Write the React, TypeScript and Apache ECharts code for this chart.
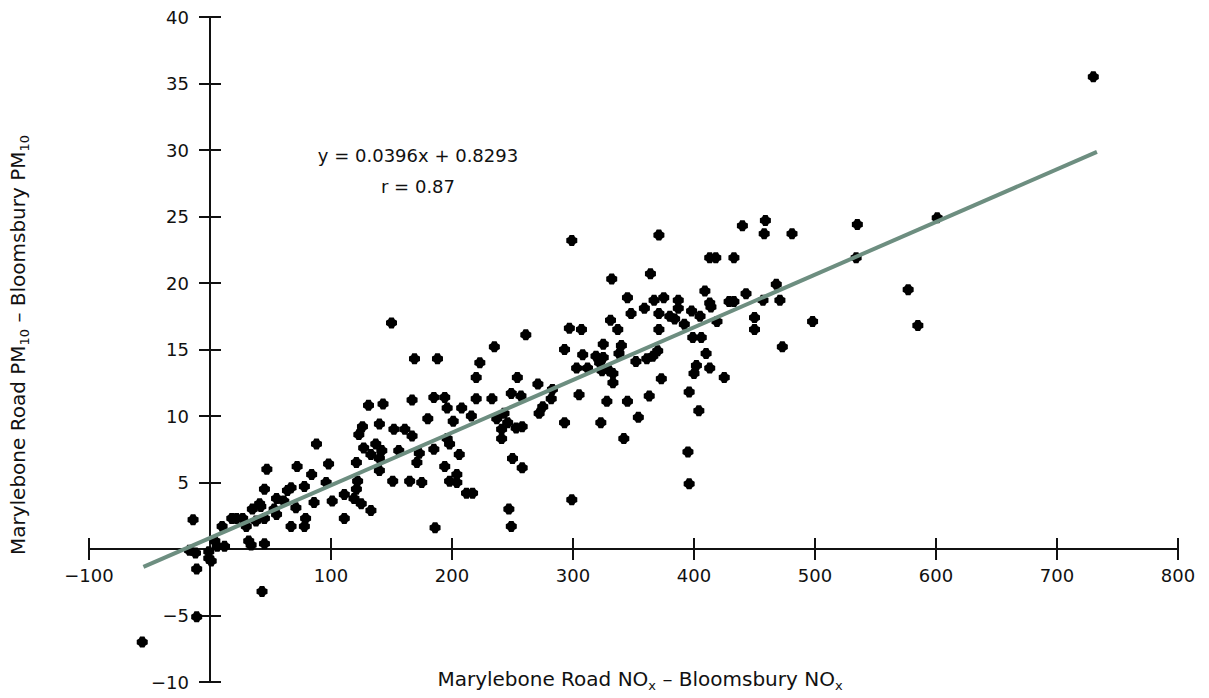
import React, { useEffect, useRef } from "react";
import * as echarts from "echarts";

// Axis ranges and tick spacing
const X_MIN = -100;
const X_MAX = 800;
const X_STEP = 100;
const Y_MIN = -10;
const Y_MAX = 40;
const Y_STEP = 5;

// Least-squares fit reported on the chart
const FIT_SLOPE = 0.0396;
const FIT_INTERCEPT = 0.8293;
const FIT_R = 0.87;
const FIT_X_RANGE = [-55, 733];

// Paired daily differences: [NOx difference, PM10 difference]
const samples: [number, number][] = [
  [-56, -7.0], [-11, -5.1], [-11, -1.5], [-14, 2.2], [-17, -0.1], [-12, -0.3],
  [-1, -0.2], [-1, -0.7], [1, -0.9], [43, -3.2], [4, 0.6], [6, 0.2],
  [12, 0.2], [32, 0.6], [34, 0.3], [45, 0.4], [10, 1.7], [18, 2.3],
  [22, 2.3], [27, 2.3], [30, 1.7], [38, 2.1], [35, 3.0], [41, 3.4],
  [42, 3.2], [45, 2.3], [53, 3.0], [55, 2.6], [45, 4.5], [47, 6.0],
  [55, 3.8], [61, 3.6], [64, 4.4], [67, 4.6], [67, 1.7], [71, 3.1],
  [72, 6.2], [78, 4.7], [79, 2.3], [78, 1.7], [84, 5.6], [86, 3.5],
  [88, 7.9], [96, 5.0], [98, 6.4], [101, 3.6], [111, 4.1], [111, 2.3],
  [119, 3.8], [121, 6.5], [121, 4.5], [122, 5.1], [125, 3.4], [133, 2.9],
  [123, 8.6], [126, 9.2], [127, 7.6], [131, 10.8], [133, 7.1], [137, 7.9],
  [140, 9.4], [140, 6.8], [140, 5.9], [142, 7.4], [143, 10.9], [150, 17.0],
  [151, 5.1], [152, 9.0], [156, 7.4], [161, 9.0], [165, 5.1], [167, 11.2],
  [167, 8.5], [169, 14.3], [171, 6.5], [173, 7.2], [175, 5.0], [180, 9.8],
  [185, 11.4], [185, 7.5], [186, 1.6], [188, 14.3], [194, 11.4], [194, 6.2],
  [196, 10.6], [196, 8.3], [198, 7.9], [198, 5.1], [201, 9.6], [204, 5.6],
  [204, 5.0], [206, 7.1], [208, 10.6], [212, 4.2], [217, 4.2], [216, 10.0],
  [220, 12.9], [220, 11.3], [223, 14.0], [233, 11.3], [235, 15.2], [237, 9.8],
  [241, 8.3], [241, 9.0], [243, 10.2], [246, 9.5], [247, 3.0], [249, 1.7],
  [249, 11.7], [250, 6.8], [253, 9.1], [254, 12.9], [257, 11.5], [258, 9.2],
  [258, 6.1], [261, 16.1], [271, 12.4], [272, 10.2], [275, 10.7], [282, 11.3],
  [283, 12.0], [293, 15.0], [293, 9.5], [297, 16.6], [299, 23.2], [299, 3.7],
  [303, 13.6], [305, 11.6], [307, 16.5], [308, 14.6], [312, 13.6], [319, 14.5],
  [322, 14.0], [323, 9.5], [324, 13.4], [325, 15.4], [325, 14.4], [328, 11.1],
  [330, 13.4], [331, 17.2], [332, 20.3], [333, 12.5], [333, 13.2], [337, 16.5],
  [338, 14.7], [340, 15.3], [342, 8.3], [345, 11.1], [345, 18.9], [348, 17.7],
  [352, 14.1], [354, 9.9], [359, 18.1], [361, 14.3], [363, 11.5], [364, 20.7],
  [367, 18.7], [370, 14.9], [366, 14.5], [371, 16.5], [371, 23.6], [371, 17.7],
  [373, 12.8], [375, 18.9], [380, 17.5], [384, 17.3], [387, 18.7], [387, 18.1],
  [392, 16.9], [395, 7.3], [396, 4.9], [396, 11.8], [398, 17.9], [399, 15.9],
  [400, 13.2], [402, 13.8], [404, 10.4], [405, 17.5], [406, 15.9], [409, 19.4],
  [410, 14.7], [413, 13.6], [413, 18.5], [414, 18.2], [413, 21.9], [418, 21.9],
  [419, 17.1], [425, 12.9], [429, 18.6], [433, 18.6], [433, 21.9], [440, 24.3],
  [443, 19.2], [450, 17.4], [450, 16.5], [457, 18.7], [458, 23.7], [459, 24.7],
  [468, 19.9], [471, 18.7], [473, 15.2], [481, 23.7], [498, 17.1], [535, 24.4],
  [534, 21.9], [577, 19.5], [585, 16.8], [601, 24.9], [730, 35.5],
];

const FONT = "DejaVu Sans";
const INK = "#111111";
const FIT_COLOR = "#6d8e80";

// Plot area inside the 1209 x 698 canvas
const WIDTH = 1209;
const HEIGHT = 698;
const GRID = { left: 89, right: 31, top: 17, bottom: 16 };
const PLOT_W = WIDTH - GRID.left - GRID.right;
const PLOT_H = HEIGHT - GRID.top - GRID.bottom;

// Distances of the zero lines from the plot edges, so the axes cross at the origin
const X_ZERO_FROM_LEFT = (PLOT_W * (0 - X_MIN)) / (X_MAX - X_MIN);
const Y_ZERO_FROM_BOTTOM = (PLOT_H * (0 - Y_MIN)) / (Y_MAX - Y_MIN);

// Filled blot used for every observation
const DOT_SYMBOL =
  "path://M3,0 H7 L8,2 L10,3 V7 L8,8 L7,10 H3 L2,8 L0,7 V3 L2,2 Z";

const tickText = (v: number) =>
  v === 0 ? "" : v < 0 ? "\u2212" + Math.abs(v) : String(v);

const fitLine = FIT_X_RANGE.map((x) => [x, FIT_SLOPE * x + FIT_INTERCEPT]);

const axisLineStyle = { color: INK, width: 2 };

function valueAxis(
  min: number,
  max: number,
  step: number,
  position: string,
  offset: number,
  withLabels: boolean,
  labelMargin: number
) {
  return {
    type: "value",
    min,
    max,
    interval: step,
    position,
    offset,
    axisLine: { show: true, onZero: false, lineStyle: axisLineStyle },
    axisTick: { show: true, length: 11, lineStyle: axisLineStyle },
    axisLabel: withLabels
      ? {
          show: true,
          formatter: tickText,
          margin: labelMargin,
          color: INK,
          fontSize: 18,
          fontFamily: FONT,
          showMinLabel: true,
          showMaxLabel: true,
        }
      : { show: false },
    splitLine: { show: false },
  };
}

export default function App() {
  const ref = useRef<HTMLDivElement>(null);

  useEffect(() => {
    if (!ref.current) return;
    const chart = echarts.init(ref.current, null, { renderer: "svg" });

    chart.setOption({
      animation: false,
      backgroundColor: "#ffffff",
      grid: {
        ...GRID,
        containLabel: false,
        outerBoundsMode: "none",
      },
      // Each axis is drawn twice with ticks on opposite sides, giving crossing ticks
      xAxis: [
        valueAxis(X_MIN, X_MAX, X_STEP, "bottom", -Y_ZERO_FROM_BOTTOM, true, 17),
        valueAxis(X_MIN, X_MAX, X_STEP, "top", -(PLOT_H - Y_ZERO_FROM_BOTTOM), false, 0),
      ],
      yAxis: [
        valueAxis(Y_MIN, Y_MAX, Y_STEP, "left", -X_ZERO_FROM_LEFT, true, 21),
        valueAxis(Y_MIN, Y_MAX, Y_STEP, "right", -(PLOT_W - X_ZERO_FROM_LEFT), false, 0),
      ],
      series: [
        {
          type: "scatter",
          xAxisIndex: 0,
          yAxisIndex: 0,
          data: samples,
          symbol: DOT_SYMBOL,
          symbolSize: 11,
          itemStyle: { color: "#000000", opacity: 1 },
          silent: true,
        },
        {
          type: "line",
          xAxisIndex: 0,
          yAxisIndex: 0,
          data: fitLine,
          symbol: "none",
          lineStyle: { color: FIT_COLOR, width: 4 },
          silent: true,
          z: 3,
        },
      ],
      graphic: [
        {
          type: "text",
          x: 418,
          y: 155,
          style: {
            text: `y = ${FIT_SLOPE}x + ${FIT_INTERCEPT}`,
            font: `18px "${FONT}"`,
            fill: INK,
            align: "center",
            verticalAlign: "middle",
          },
        },
        {
          type: "text",
          x: 418,
          y: 186,
          style: {
            text: `r = ${FIT_R}`,
            font: `18px "${FONT}"`,
            fill: INK,
            align: "center",
            verticalAlign: "middle",
          },
        },
        {
          type: "text",
          x: 640,
          y: 679,
          style: {
            text: "Marylebone Road NO{sub|x} \u2013 Bloomsbury NO{sub|x}",
            fontFamily: FONT,
            fontSize: 20,
            fill: INK,
            align: "center",
            verticalAlign: "middle",
            rich: {
              sub: {
                fontFamily: FONT,
                fontSize: 13,
                fill: INK,
                padding: [12, 0, 0, 0],
              },
            },
          },
        },
        {
          type: "text",
          x: 18,
          y: 345,
          rotation: Math.PI / 2,
          style: {
            text: "Marylebone Road PM{sub|10} \u2013 Bloomsbury PM{sub|10}",
            fontFamily: FONT,
            fontSize: 20,
            fill: INK,
            align: "center",
            verticalAlign: "middle",
            rich: {
              sub: {
                fontFamily: FONT,
                fontSize: 13,
                fill: INK,
                padding: [12, 0, 0, 0],
              },
            },
          },
        },
      ],
    });

    return () => chart.dispose();
  }, []);

  return (
    <div
      ref={ref}
      style={{
        position: "fixed",
        left: 0,
        top: 0,
        width: WIDTH,
        height: HEIGHT,
        background: "#ffffff",
      }}
    />
  );
}
